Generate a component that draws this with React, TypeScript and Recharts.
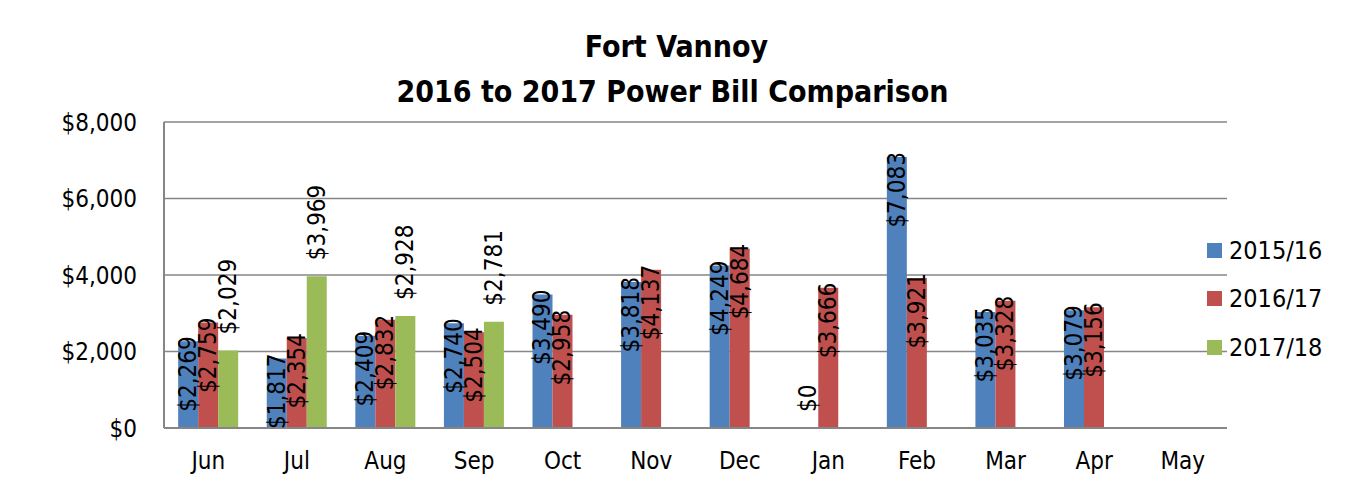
import React from "react";
import { BarChart, Bar, XAxis, YAxis, CartesianGrid, LabelList } from "recharts";

const months = ["Jun", "Jul", "Aug", "Sep", "Oct", "Nov", "Dec", "Jan", "Feb", "Mar", "Apr", "May"];
const fy1516 = [2269, 1817, 2409, 2740, 3490, 3818, 4249, 0, 7083, 3035, 3079, null];
const fy1617 = [2759, 2354, 2832, 2504, 2958, 4137, 4684, 3666, 3921, 3328, 3156, null];
const fy1718 = [2029, 3969, 2928, 2781, null, null, null, null, null, null, null, null];
const yTicks = [0, 2000, 4000, 6000, 8000];

const series = [
  { key: "fy1516", name: "2015/16", color: "#4F81BD" },
  { key: "fy1617", name: "2016/17", color: "#C0504D" },
  { key: "fy1718", name: "2017/18", color: "#9BBB59" },
];

const data = months.map((m, i) => ({
  month: m,
  fy1516: fy1516[i],
  fy1617: fy1617[i],
  fy1718: fy1718[i],
}));

const FONT = "'Liberation Sans Narrow', 'DejaVu Sans Condensed', 'Liberation Sans', sans-serif";
const GRID = "#868686";

const money = (v: number) => "$" + v.toLocaleString("en-US");

// rotated value labels; the green series (and zero values) sit above the bar
function makeLabel(outsideSeries: boolean) {
  return (props: any) => {
    const { x, y, width, value } = props;
    if (value === null || value === undefined) return null;
    const outside = outsideSeries || Number(value) === 0;
    const cx = Number(x) + Number(width) / 2;
    const ay = outside ? Number(y) - 16 : Number(y) - 5;
    return (
      <text
        x={cx}
        y={ay}
        transform={`rotate(-90 ${cx} ${ay})`}
        textAnchor={outside ? "start" : "end"}
        dominantBaseline="central"
        fontFamily={FONT}
        fontSize={24}
        fill="#000"
      >
        {money(Number(value))}
      </text>
    );
  };
}

export default function App() {
  return (
    <div
      style={{
        margin: -8,
        width: 1345,
        height: 486,
        position: "relative",
        background: "#fff",
        fontFamily: FONT,
      }}
    >
      <div
        style={{
          position: "absolute",
          left: 0,
          top: 0,
          width: 1343,
          height: 484,
          borderLeft: "2px solid #888",
          borderTop: "1px solid #888",
          borderRight: "2px solid #888",
          borderBottom: "2px solid #888",
          boxSizing: "border-box",
        }}
      />
      <div
        style={{
          position: "absolute",
          left: 0,
          width: 1345,
          top: 24,
          textAlign: "center",
          fontWeight: "bold",
          fontSize: 30,
          lineHeight: "45px",
          color: "#000",
        }}
      >
        <div style={{ marginLeft: 8 }}>Fort Vannoy</div>
        <div>2016 to 2017 Power Bill Comparison</div>
      </div>
      <BarChart
        width={1345}
        height={486}
        data={data}
        margin={{ top: 122, right: 118, left: 0, bottom: 0 }}
        barCategoryGap="16%"
        barGap={0}
      >
        <CartesianGrid vertical={false} stroke={GRID} strokeWidth={1.5} />
        <XAxis
          dataKey="month"
          height={58}
          axisLine={{ stroke: GRID, strokeWidth: 2 }}
          tickLine={false}
          tick={{ fill: "#000", fontSize: 24, fontFamily: FONT }}
          tickMargin={18}
        />
        <YAxis
          width={164}
          domain={[0, 8000]}
          ticks={yTicks}
          tickFormatter={money}
          axisLine={{ stroke: GRID, strokeWidth: 2 }}
          tickLine={false}
          tickMargin={21}
          tick={{ fill: "#000", fontSize: 24, fontFamily: FONT }}
        />
        {series.map((s, i) => (
          <Bar
            key={s.key}
            dataKey={s.key}
            name={s.name}
            fill={s.color}
            minPointSize={0.01}
            isAnimationActive={false}
          >
            <LabelList dataKey={s.key} content={makeLabel(i === 2)} />
          </Bar>
        ))}
      </BarChart>
      {series.map((s, i) => (
        <div
          key={s.key}
          style={{
            position: "absolute",
            left: 1207,
            top: 250 + i * 48.5 - 15,
            height: 30,
            display: "flex",
            alignItems: "center",
            fontSize: 25,
            color: "#000",
          }}
        >
          <span style={{ width: 15, height: 15, background: s.color, display: "inline-block", marginRight: 7 }} />
          {s.name}
        </div>
      ))}
    </div>
  );
}
